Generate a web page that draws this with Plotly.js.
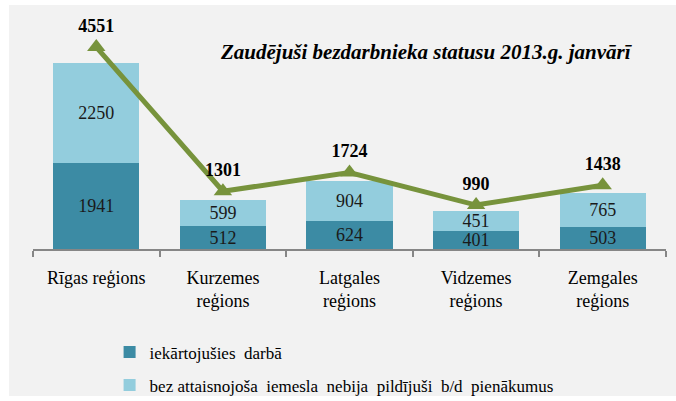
<!DOCTYPE html>
<html>
<head>
<meta charset="utf-8">
<script src="https://cdn.plot.ly/plotly-3.0.1.min.js"></script>
<style>
html,body{margin:0;padding:0;background:#ffffff;width:676px;height:401px;overflow:hidden;}
#chart{position:absolute;left:9px;top:5px;width:667px;height:391px;}
</style>
</head>
<body>
<div id="chart"></div>
<script>
const categories = ["Rīgas reģions", "Kurzemes<br>reģions", "Latgales<br>reģions", "Vidzemes<br>reģions", "Zemgales<br>reģions"];
const employed = [1941, 512, 624, 401, 503];
const noReason = [2250, 599, 904, 451, 765];
const totals = [4551, 1301, 1724, 990, 1438];
const seriesNames = ["iekārtojušies  darbā", "bez attaisnojoša  iemesla  nebija  pildījuši  b/d  pienākumus"];
const titleText = "Zaudējuši bezdarbnieka statusu 2013.g. janvārī";

const serif = "Liberation Serif";

const traces = [
  {
    type: "bar", x: categories, y: employed, name: seriesNames[0],
    legendgroup: "a",
    marker: {color: "#3C8BA4"},
    width: 0.68,
    text: employed.map(String), textposition: "inside", insidetextanchor: "middle",
    constraintext: "none",
    textfont: {family: serif, size: 18, color: "#1a1a1a"},
    hoverinfo: "skip"
  },
  {
    type: "bar", x: categories, y: noReason, name: seriesNames[1],
    legendgroup: "b",
    marker: {color: "#93CDDD"},
    width: 0.68,
    text: noReason.map(String), textposition: "inside", insidetextanchor: "middle",
    constraintext: "none",
    textfont: {family: serif, size: 18, color: "#1a1a1a"},
    hoverinfo: "skip"
  },
  {
    type: "scatter", x: categories, y: totals, mode: "lines+markers+text",
    showlegend: false,
    line: {color: "#77933C", width: 5},
    marker: {symbol: "triangle-up", size: 16, color: "#77933C"},
    text: totals.map(v => "<b>" + v + "</b>"), textposition: "top center",
    textfont: {family: serif, size: 18, color: "#000000"},
    cliponaxis: false,
    hoverinfo: "skip"
  }
];

const layout = {
  barmode: "stack",
  paper_bgcolor: "#F2F2F2",
  plot_bgcolor: "rgba(0,0,0,0)",
  margin: {l: 24, r: 10, t: 31, b: 147, autoexpand: false},
  font: {family: serif, size: 18, color: "#000000"},
  showlegend: true,
  legend: {
    x: 0.121, xanchor: "left", y: -0.401, yanchor: "top",
    orientation: "v", traceorder: "grouped", tracegroupgap: 8,
    font: {family: serif, size: 17, color: "#000000"},
    bgcolor: "rgba(0,0,0,0)"
  },
  xaxis: {
    showline: true, linecolor: "#868686", linewidth: 2,
    ticks: "outside", tickson: "boundaries", ticklen: 6, tickwidth: 2, tickcolor: "#868686",
    ticklabelstandoff: 11,
    tickfont: {family: serif, size: 18, color: "#000000"},
    showgrid: false, zeroline: false, fixedrange: true
  },
  yaxis: {
    range: [0, 4800], visible: false, showgrid: false, zeroline: false, fixedrange: true
  },
  annotations: [
    {
      text: "<b><i>" + titleText + "</i></b>",
      xref: "paper", yref: "paper", x: 0.622, y: 0.925,
      xanchor: "center", yanchor: "middle", showarrow: false,
      font: {family: serif, size: 21, color: "#000000"}
    }
  ]
};

Plotly.newPlot("chart", traces, layout, {displayModeBar: false, staticPlot: true});
</script>
</body>
</html>
